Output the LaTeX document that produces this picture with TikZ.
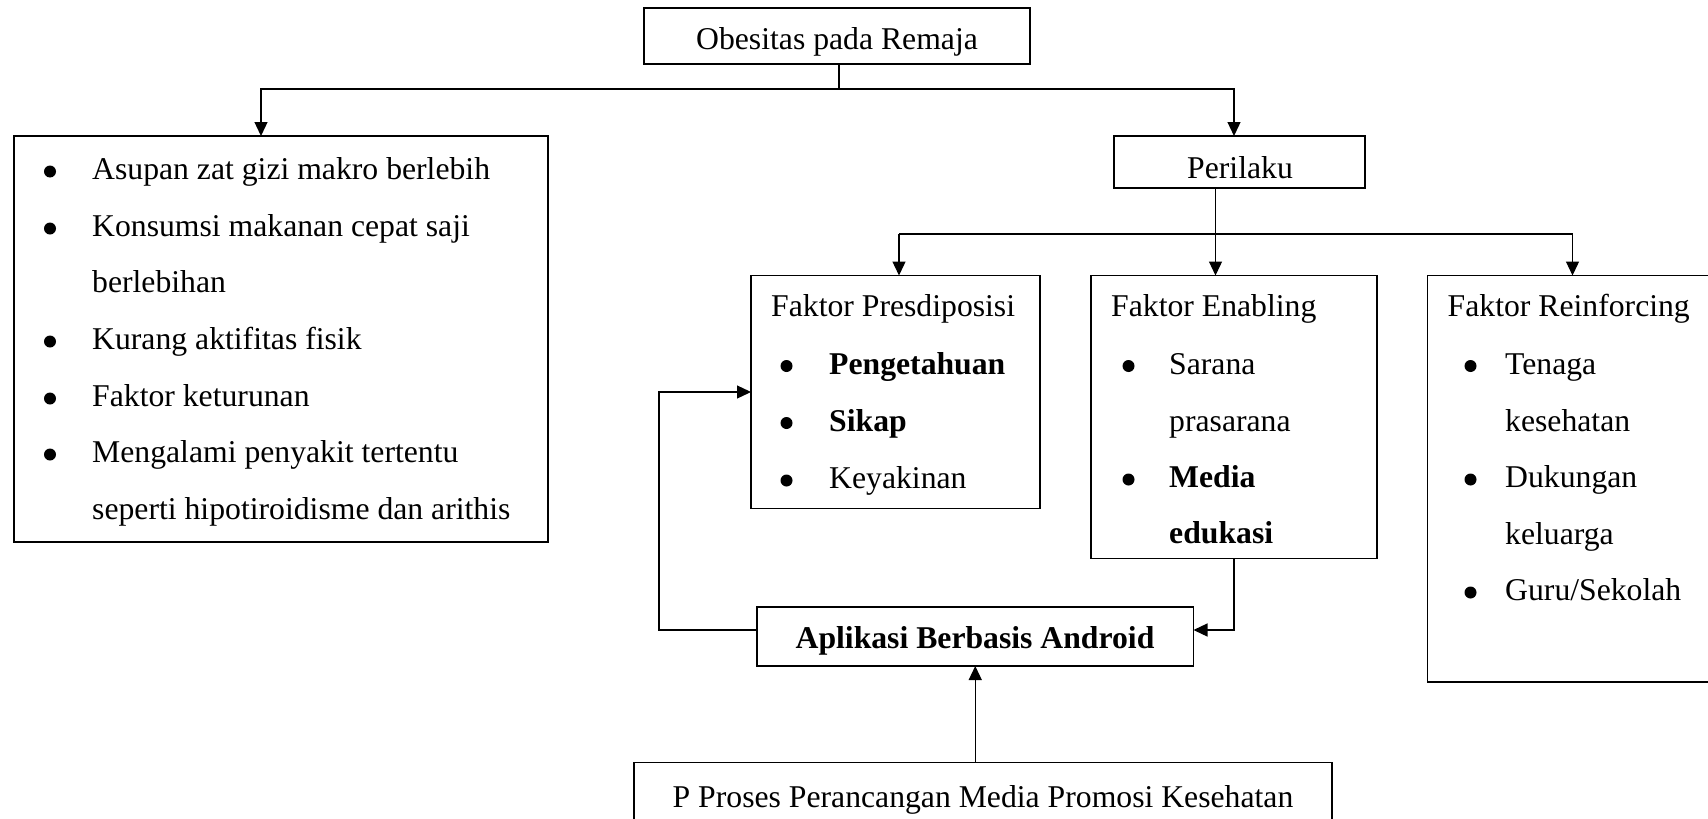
\documentclass[tikz,border=0pt]{standalone}
\usepackage{fontspec}
\setmainfont{Liberation Serif}
\usetikzlibrary{arrows.meta}
\newcommand\mybul[3]{\node[bulst] (#1) at (#2,#3-5.5) {};}
\newcommand\mytl[4]{\node[txt] (#1) at (#2,#3+2.5) {#4};}
\begin{document}
\begin{tikzpicture}[x=1pt,y=-1pt,
  box/.style={draw, line width=1.3pt, inner sep=0pt, outer sep=0pt, anchor=north west},
  txt/.style={inner sep=0pt, anchor=base west, font=\fontsize{31.7}{38}\selectfont},
  ctr/.style={inner sep=0pt, anchor=base, font=\fontsize{31.7}{38}\selectfont},
  bulst/.style={circle, fill=black, inner sep=0pt, minimum size=12pt},
  arr/.style={line width=1.3pt, -{Triangle[length=14pt,width=13pt]}},
  ln/.style={line width=1.3pt}]
\useasboundingbox (0,0) rectangle (1708,819);

% boxes
\node[box, minimum width=386pt, minimum height=56pt] (obes) at (644,8) {};
\node[box, minimum width=534pt, minimum height=406pt] (left) at (14,136) {};
\node[box, minimum width=251pt, minimum height=52pt] (peri) at (1114,136) {};
\node[box, minimum width=289pt, minimum height=233pt] (pres) at (751,275.5) {};
\node[box, minimum width=286pt, minimum height=283.3pt] (enab) at (1091,275.5) {};
\node[box, minimum width=290pt, minimum height=406.5pt] (reinf) at (1427.5,275.5) {};
\node[box, minimum width=436.5pt, minimum height=59pt] (apl) at (757,607) {};
\node[box, minimum width=698pt, minimum height=70pt] (bot) at (634,762.5) {};

% single-line texts
\node[ctr] (tobes) at (837,49.5) {Obesitas pada Remaja};
\node[ctr] (tperi) at (1240,178) {Perilaku};
\node[ctr] (tapl) at (975,648) {\textbf{Aplikasi Berbasis Android}};
\node[ctr] (tbot) at (983,807) {P Proses Perancangan Media Promosi Kesehatan};

% left box
\mybul{lb1}{50}{177}\mytl{lt1}{92}{177}{Asupan zat gizi makro berlebih}
\mybul{lb2}{50}{234}\mytl{lt2}{92}{234}{Konsumsi makanan cepat saji}
\mytl{lt3}{92}{290}{berlebihan}
\mybul{lb4}{50}{347}\mytl{lt4}{92}{347}{Kurang aktifitas fisik}
\mybul{lb5}{50}{404}\mytl{lt5}{92}{404}{Faktor keturunan}
\mybul{lb6}{50}{460}\mytl{lt6}{92}{460}{Mengalami penyakit tertentu}
\mytl{lt7}{92}{517}{seperti hipotiroidisme dan arithis}

% presdiposisi
\mytl{pt0}{771}{314}{Faktor Presdiposisi}
\mybul{pb1}{786.5}{371.5}\mytl{pt1}{829}{371.5}{\textbf{Pengetahuan}}
\mybul{pb2}{786.5}{428.5}\mytl{pt2}{829}{428.5}{\textbf{Sikap}}
\mybul{pb3}{786.5}{486}\mytl{pt3}{829}{486}{Keyakinan}

% enabling
\mytl{et0}{1111}{314}{Faktor Enabling}
\mybul{eb1}{1128.5}{371.5}\mytl{et1}{1169}{371.5}{Sarana}
\mytl{et2}{1169}{428.5}{prasarana}
\mybul{eb3}{1128.5}{485}\mytl{et3}{1169}{485}{\textbf{Media}}
\mytl{et4}{1169}{541}{\textbf{edukasi}}

% reinforcing
\mytl{rt0}{1447.5}{314}{Faktor Reinforcing}
\mybul{rb1}{1470.5}{371.5}\mytl{rt1}{1505}{371.5}{Tenaga}
\mytl{rt2}{1505}{428.5}{kesehatan}
\mybul{rb3}{1470.5}{485}\mytl{rt3}{1505}{485}{Dukungan}
\mytl{rt4}{1505}{541.5}{keluarga}
\mybul{rb5}{1470.5}{598}\mytl{rt5}{1505}{598}{Guru/Sekolah}

% connectors
\coordinate (jn) at (839,89);
\coordinate (obs) at (obes.south -| jn);
\coordinate (leftin) at ([xshift=-20pt]left.north);
\coordinate (periin) at ([xshift=-5.5pt]peri.north);
\draw[ln] (obs) -- (jn);
\draw[arr] (jn) -| (leftin);
\draw[arr] (jn) -| (periin);

\coordinate (pj) at ([xshift=-24pt]peri.south);
\coordinate (hb) at (0,234);
\coordinate (presin) at ([xshift=3.5pt]pres.north);
\draw[arr] (pj) -- (pj |- enab.north);
\draw[ln] (presin |- hb) -- (reinf.north |- hb);
\draw[arr] (presin |- hb) -- (presin);
\draw[arr] (reinf.north |- hb) -- (reinf.north);

\coordinate (aple) at ([yshift=6.5pt]apl.east);
\coordinate (aplw) at ([yshift=6.5pt]apl.west);
\coordinate (lx) at (659,0);
\draw[arr] (enab.south) |- (aple);
\draw[arr] (aplw) -- (aplw -| lx) |- (pres.west);
\draw[arr] (apl.south |- bot.north) -- (apl.south);
\end{tikzpicture}
\end{document}
